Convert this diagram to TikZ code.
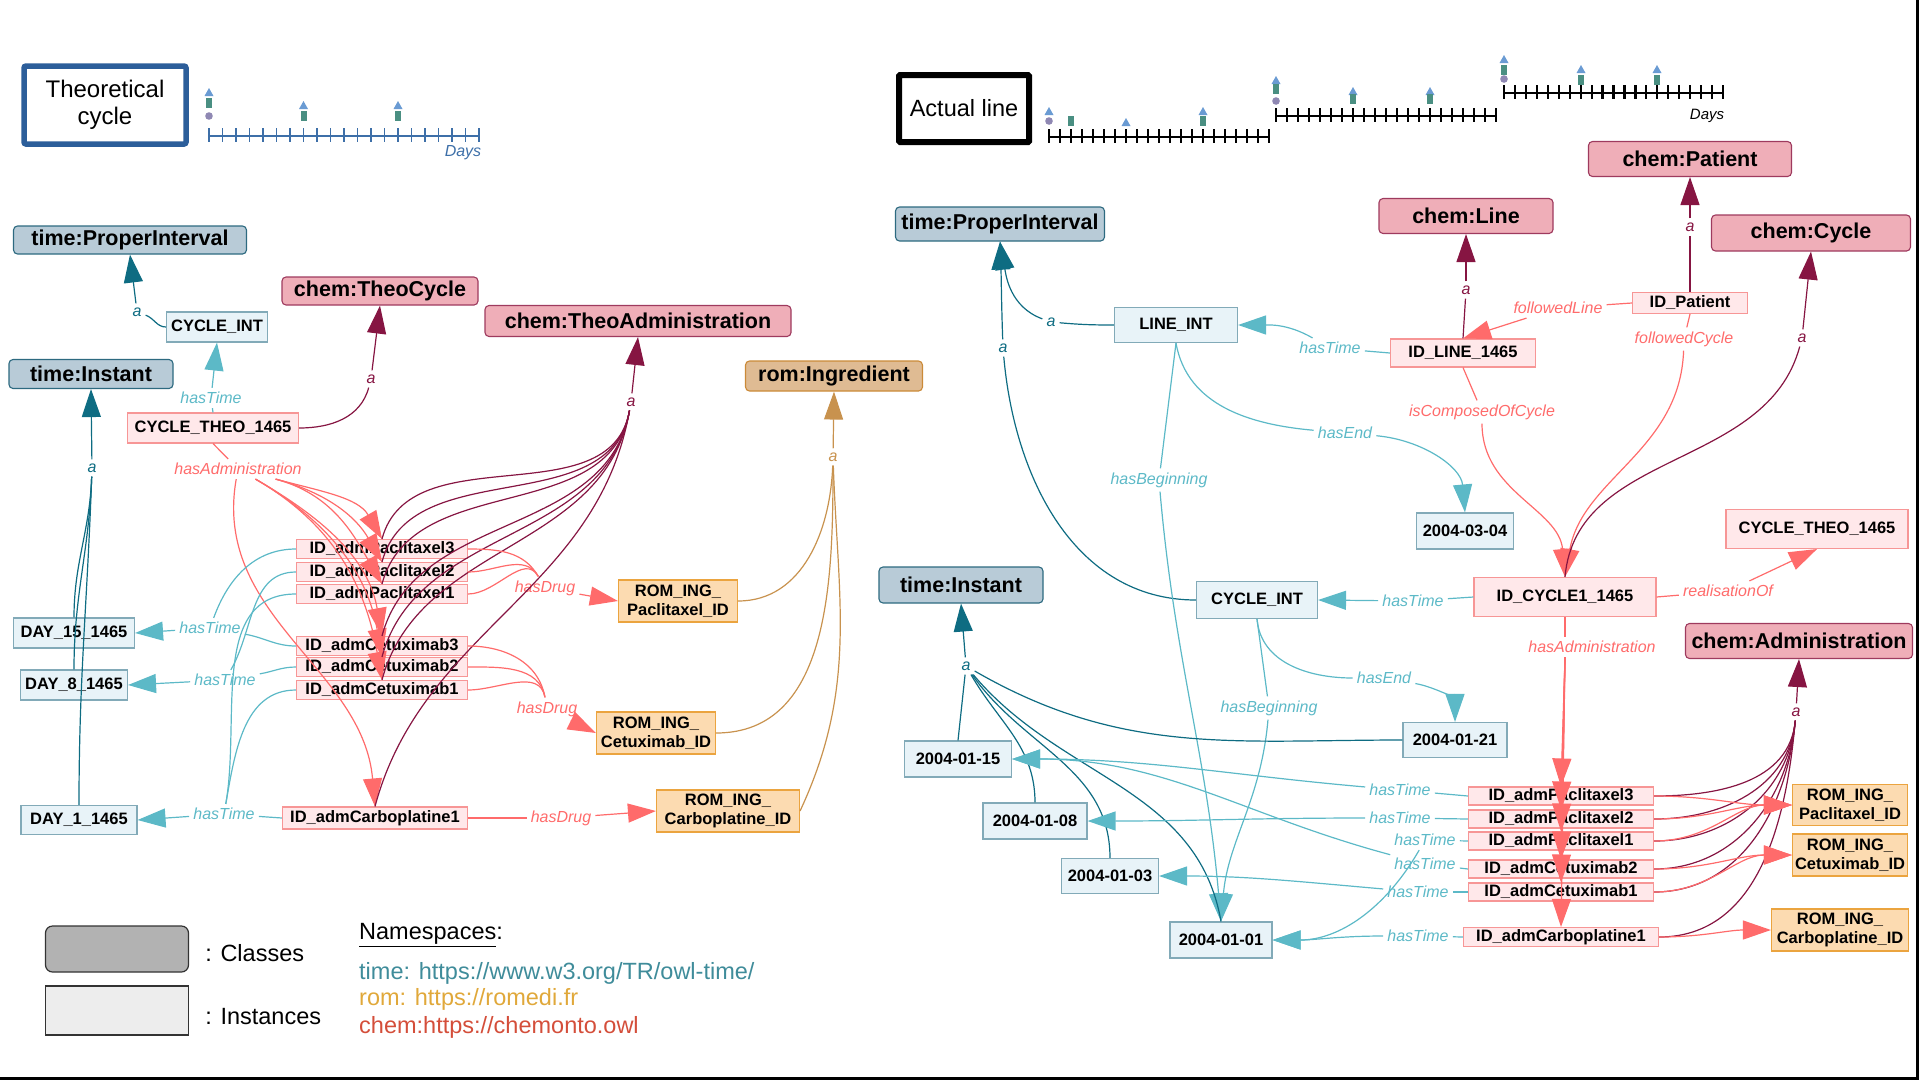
\documentclass[tikz,border=0pt]{standalone}
\usepackage{fontspec}
\setmainfont{Liberation Sans}
\usetikzlibrary{arrows.meta,positioning}

\definecolor{timeCls}{HTML}{B8CBD7}
\definecolor{timeClsD}{HTML}{2D6A80}
\definecolor{chemCls}{HTML}{EFAEB8}
\definecolor{chemClsD}{HTML}{9E3A5E}
\definecolor{romCls}{HTML}{DFBB93}
\definecolor{romClsD}{HTML}{CB8A38}
\definecolor{timeIns}{HTML}{E8F3F8}
\definecolor{timeInsD}{HTML}{82AAB8}
\definecolor{chemIns}{HTML}{FFE8EA}
\definecolor{chemInsD}{HTML}{F79696}
\definecolor{romIns}{HTML}{FCDBB1}
\definecolor{romInsD}{HTML}{EBA43F}
\definecolor{tA}{HTML}{0E6C82}
\definecolor{tP}{HTML}{5CB9C7}
\definecolor{cA}{HTML}{861542}
\definecolor{cP}{HTML}{FF6B6B}
\definecolor{rA}{HTML}{C8924E}
\definecolor{thBlue}{HTML}{2C5E9A}
\definecolor{axBlue}{HTML}{3D6FA8}
\definecolor{mkTri}{HTML}{6A9BD3}
\definecolor{mkSq}{HTML}{4A8F82}
\definecolor{mkDot}{HTML}{8F88B3}
\definecolor{nsTime}{HTML}{3F8C9A}
\definecolor{nsRom}{HTML}{E0A83A}
\definecolor{nsChem}{HTML}{D44E3A}

\newcommand{\pxsz}[1]{\fontsize{#1}{#1}\selectfont}
\newcommand{\mktri}[2]{\fill[mkTri] (#1,#2) ++(-4.5,4) -- ++(9,0) -- ++(-4.5,-8) -- cycle;}
\newcommand{\mksq}[2]{\fill[mkSq] (#1-3,#2-5) rectangle (#1+3,#2+5);}
\newcommand{\mkdot}[2]{\fill[mkDot] (#1,#2) circle (3.8pt);}
% start x, y, step, style
\newcommand{\dayaxis}[4]{%
  \draw[#4] (#1,#2) -- ({#1+20*#3},#2);
  \foreach \k in {0,...,20}{\draw[#4] ({#1+\k*#3},{#2-8}) -- ++(0,14);}}

\begin{document}
\begin{tikzpicture}[x=1pt,y=-1pt,
  sz/.style args={#1x#2}{minimum width=#1pt,minimum height=#2pt},
  cls/.style={rounded corners=4pt, line width=1.1pt, inner sep=0pt, font=\pxsz{21.5}\bfseries},
  tcls/.style={cls, fill=timeCls, draw=timeClsD},
  ccls/.style={cls, fill=chemCls, draw=chemClsD},
  rcls/.style={cls, fill=romCls, draw=romClsD},
  inst/.style={line width=1.1pt, inner sep=0pt, font=\pxsz{16.5}\bfseries},
  tins/.style={inst, fill=timeIns, draw=timeInsD},
  cins/.style={inst, fill=chemIns, draw=chemInsD},
  rins/.style={inst, fill=romIns, draw=romInsD, align=center, font=\fontsize{16.5}{18.5}\selectfont\bfseries},
  lbl/.style={font=\pxsz{16}\itshape, inner sep=4pt},
  lta/.style={lbl, text=tA}, ltp/.style={lbl, text=tP},
  lca/.style={lbl, text=cA}, lcp/.style={lbl, text=cP}, lra/.style={lbl, text=rA},
  eta/.style={draw=tA, line width=1.2pt}, etp/.style={draw=tP, line width=1.2pt},
  eca/.style={draw=cA, line width=1.2pt}, ecp/.style={draw=cP, line width=1.2pt},
  era/.style={draw=rA, line width=1.2pt},
  bigtip/.style={-{Triangle[length=28pt,width=19pt]}},
  axL/.style={draw=axBlue, line width=1.5pt},
  axK/.style={draw=black, line width=2.2pt}]
\useasboundingbox (0,0) rectangle (1920,1080);
\draw[line width=3pt] (0,1078.5) -- (1917.5,1078.5) -- (1917.5,0);

% Titles and time lines
\node[draw=thBlue, line width=5.5pt, rounded corners=2pt, sz=162x78, align=center,
      font=\fontsize{24}{27}\selectfont] (thCyc) at (105,105) {Theoretical\\cycle};
\node[draw=black, line width=6pt, rounded corners=1pt, sz=130x67,
      font=\pxsz{23.5}] (actLine) at (964,108.5) {Actual line};

\dayaxis{209}{136}{13.5}{axL}
\mktri{209}{92} \mksq{209}{103} \mkdot{209}{116}
\mktri{303.5}{105} \mksq{303.5}{116}
\mktri{398}{105} \mksq{398}{116}
\node[font=\pxsz{16}\itshape, text=axBlue] (daysL) at (463,153) {Days};

\dayaxis{1049}{137}{11}{axK}
\mktri{1049}{111} \mkdot{1049}{121} \mksq{1071}{121}
\mktri{1126}{122} \mktri{1203}{111} \mksq{1203}{121}
\dayaxis{1276}{116}{11}{axK}
\mktri{1276}{80} \mksq{1276}{89} \mkdot{1276}{101}
\mktri{1353}{91} \mksq{1353}{99} \mktri{1430}{91} \mksq{1430}{99}
\dayaxis{1504}{93}{10.95}{axK}
\mktri{1504}{59} \mksq{1504}{70} \mkdot{1504}{79}
\mktri{1581}{69} \mksq{1581}{80} \mktri{1657}{69} \mksq{1657}{80}
\node[font=\pxsz{15}\itshape] (daysR) at (1707,116) {Days};

% Theoretical cycle: nodes
\node[tcls, sz=233x28] (tPIL)    at (130,240) {time:ProperInterval};
\node[tins, sz=101x30] (cIntL)   at (217,327) {CYCLE\_INT};
\node[tcls, sz=164x29] (tInL)    at (91,374)  {time:Instant};
\node[ccls, sz=196x28] (theoCyc) at (380,291) {chem:TheoCycle};
\node[cins, sz=171x30] (cTheoL)  at (213,428) {CYCLE\_THEO\_1465};
\node[ccls, sz=306x31] (theoAdm) at (638,321) {chem:TheoAdministration};
\node[rcls, sz=177x30] (romIng)  at (834,376) {rom:Ingredient};

\node[cins, sz=171x19] (aP3L) at (382,549) {ID\_admPaclitaxel3};
\node[cins, sz=171x19] (aP2L) at (382,572) {ID\_admPaclitaxel2};
\node[cins, sz=171x19] (aP1L) at (382,594) {ID\_admPaclitaxel1};
\node[cins, sz=171x19] (aC3L) at (382,646) {ID\_admCetuximab3};
\node[cins, sz=171x19] (aC2L) at (382,667) {ID\_admCetuximab2};
\node[cins, sz=171x19] (aC1L) at (382,690) {ID\_admCetuximab1};
\node[cins, sz=185x22] (aCbL) at (375,818) {ID\_admCarboplatine1};

\node[tins, sz=121x30] (d15) at (74,633) {DAY\_15\_1465};
\node[tins, sz=107x30] (d8)  at (74,685) {DAY\_8\_1465};
\node[tins, sz=116x29] (d1)  at (79,820) {DAY\_1\_1465};

\node[rins, sz=119x42] (rPacL) at (678,601) {ROM\_ING\_\\Paclitaxel\_ID};
\node[rins, sz=119x42] (rCetL) at (656,733) {ROM\_ING\_\\Cetuximab\_ID};
\node[rins, sz=143x42] (rCarL) at (728,811) {ROM\_ING\_\\Carboplatine\_ID};

% Theoretical cycle: edge labels
\node[lta] (lA1)  at (137,312) {a};
\node[ltp] (lHT1) at (211,398) {hasTime};
\node[lca] (lA2)  at (371,379) {a};
\node[lta] (lA3)  at (92,468)  {a};
\node[lcp] (lAdm) at (238,469) {hasAdministration};
\node[lca] (lA4)  at (631,402) {a};
\node[lcp] (lD1)  at (545,588) {hasDrug};
\node[lcp] (lD2)  at (547,709) {hasDrug};
\node[lcp] (lD3)  at (561,818) {hasDrug};
\node[ltp] (lT1)  at (210,628) {hasTime};
\node[ltp] (lT2)  at (225,680) {hasTime};
\node[ltp] (lT3)  at (224,814) {hasTime};
\node[lra] (lA5)  at (833,457) {a};

% Theoretical cycle: edges
\draw[eta] (cIntL.west) to[out=180,in=-20] (lA1);
\draw[eta,bigtip] (lA1) -- (tPIL.south);
\draw[etp] (cTheoL.north) -- (lHT1);
\draw[etp,bigtip] (lHT1) -- (cIntL.south);
\draw[eca] (cTheoL.east) to[out=0,in=-105] (lA2);
\draw[eca,bigtip] (lA2) -- (theoCyc.south);
\foreach \n in {d15,d8,d1} \draw[eta] (\n.north) to[out=90,in=-92] (lA3);
\draw[eta,bigtip] (lA3) -- (tInL.south);

\draw[ecp] (cTheoL.south) -- (lAdm);
\foreach \n in {aP3L,aP2L,aP1L} \draw[ecp,bigtip] (lAdm) to[out=-15,in=120] (\n.north);
\foreach \n in {aC3L,aC2L,aC1L} \draw[ecp,bigtip] (lAdm) to[out=-30,in=100] (\n.north);
\draw[ecp,bigtip] (lAdm) to[out=-100,in=95] (aCbL.north);

\foreach \n in {aP3L,aP2L,aP1L,aC3L,aC2L,aC1L,aCbL}
  \draw[eca] (\n.north) to[out=75,in=-100] (lA4);
\draw[eca,bigtip] (lA4) -- (theoAdm.south);

\foreach \n in {aP3L,aP2L,aP1L} \draw[ecp] (\n.east) to[out=0,in=120] (lD1);
\draw[ecp,bigtip] (lD1) -- (rPacL.west);
\foreach \n in {aC3L,aC2L,aC1L} \draw[ecp] (\n.east) to[out=0,in=100] (lD2);
\draw[ecp,bigtip] (lD2) -- (rCetL.west);
\draw[ecp] (aCbL.east) -- (lD3);
\draw[ecp,bigtip] (lD3) -- (rCarL.west);

\draw[etp] (aP3L.west) to[out=180,in=70] (lT1);
\draw[etp] (aC3L.west) to[out=180,in=-10] (lT1);
\draw[etp,bigtip] (lT1) -- (d15.east);
\draw[etp] (aP2L.west) to[out=180,in=60] (lT2);
\draw[etp] (aC2L.west) to[out=180,in=10] (lT2);
\draw[etp,bigtip] (lT2) -- (d8.east);
\draw[etp] (aP1L.west) to[out=180,in=80] (lT3);
\draw[etp] (aC1L.west) to[out=180,in=80] (lT3);
\draw[etp] (aCbL.west) -- (lT3);
\draw[etp,bigtip] (lT3) -- (d1.east);

\draw[era] (rPacL.east) to[out=0,in=-92] (lA5);
\draw[era] (rCetL.east) to[out=0,in=-90] (lA5);
\draw[era] (rCarL.east) to[out=65,in=-88] (lA5);
\draw[era,bigtip] (lA5) -- (romIng.south);

% Actual line: nodes
\node[tcls, sz=209x34] (tPIR)   at (1000,224) {time:ProperInterval};
\node[tins, sz=123x35] (lineInt) at (1176,325) {LINE\_INT};
\node[ccls, sz=174x35] (cLine)  at (1466,216) {chem:Line};
\node[cins, sz=145x28] (idLine) at (1463,353) {ID\_LINE\_1465};
\node[cins, sz=115x21] (idPat)  at (1690,303) {ID\_Patient};
\node[ccls, sz=203x35] (cPat)   at (1690,159) {chem:Patient};
\node[ccls, sz=199x36] (cCyc)   at (1811,233) {chem:Cycle};
\node[tins, sz=97x36]  (d0304)  at (1465,531) {2004-03-04};
\node[cins, sz=182x39] (cTheoR) at (1817,529) {CYCLE\_THEO\_1465};
\node[cins, sz=182x39] (idCyc)  at (1565,597) {ID\_CYCLE1\_1465};
\node[tins, sz=121x37] (cIntR)  at (1257,600) {CYCLE\_INT};
\node[ccls, sz=227x35] (cAdm)   at (1799,641) {chem:Administration};
\node[tcls, sz=164x36] (tInR)   at (961,585)  {time:Instant};

\node[tins, sz=107x36] (d0115) at (958,759)  {2004-01-15};
\node[tins, sz=104x36] (d0108) at (1035,821) {2004-01-08};
\node[tins, sz=97x35]  (d0103) at (1110,876) {2004-01-03};
\node[tins, sz=102x36] (d0101) at (1221,940) {2004-01-01};
\node[tins, sz=104x35] (d0121) at (1455,740) {2004-01-21};

\node[cins, sz=185x18] (aP3R) at (1561,796) {ID\_admPaclitaxel3};
\node[cins, sz=185x18] (aP2R) at (1561,819) {ID\_admPaclitaxel2};
\node[cins, sz=185x18] (aP1R) at (1561,841) {ID\_admPaclitaxel1};
\node[cins, sz=185x18] (aC2R) at (1561,869) {ID\_admCetuximab2};
\node[cins, sz=185x18] (aC1R) at (1561,892) {ID\_admCetuximab1};
\node[cins, sz=195x19] (aCbR) at (1561,937) {ID\_admCarboplatine1};

\node[rins, sz=115x41] (rPacR) at (1850,805) {ROM\_ING\_\\Paclitaxel\_ID};
\node[rins, sz=115x42] (rCetR) at (1850,855) {ROM\_ING\_\\Cetuximab\_ID};
\node[rins, sz=137x42] (rCarR) at (1840,930) {ROM\_ING\_\\Carboplatine\_ID};

% Actual line: edge labels
\node[lta] (rA1)  at (1051,322) {a};
\node[lta] (rA2)  at (1003,348) {a};
\node[ltp] (rHT1) at (1330,348) {hasTime};
\node[lca] (rA3)  at (1466,290) {a};
\node[lcp] (rFL)  at (1558,308) {followedLine};
\node[lca] (rA4)  at (1690,227) {a};
\node[lcp] (rFC)  at (1684,339) {followedCycle};
\node[lcp] (rIC)  at (1482,412) {isComposedOfCycle};
\node[lca] (rA5)  at (1802,338) {a};
\node[ltp] (rHE1) at (1345,433) {hasEnd};
\node[ltp] (rHB1) at (1159,480) {hasBeginning};
\node[lcp] (rRO)  at (1728,591) {realisationOf};
\node[ltp] (rHT2) at (1413,601) {hasTime};
\node[lcp] (rHA)  at (1592,647) {hasAdministration};
\node[ltp] (rHE2) at (1384,678) {hasEnd};
\node[ltp] (rHB2) at (1269,708) {hasBeginning};
\node[lta] (rA6)  at (966,666)  {a};
\node[lca] (rA7)  at (1796,712) {a};
\node[ltp] (rT1)  at (1400,790) {hasTime};
\node[ltp] (rT2)  at (1400,818) {hasTime};
\node[ltp] (rT3)  at (1425,840) {hasTime};
\node[ltp] (rT4)  at (1425,864) {hasTime};
\node[ltp] (rT5)  at (1418,892) {hasTime};
\node[ltp] (rT6)  at (1418,936) {hasTime};

% Actual line: edges
\draw[eta] (lineInt.west) to[out=180,in=-5] (rA1);
\draw[eta,bigtip] (rA1) to[out=160,in=-80] (tPIR.south);
\draw[eta] (cIntR.west) to[out=180,in=-85] (rA2);
\draw[eta,bigtip] (rA2) to[out=92,in=-88] (tPIR.south);
\draw[etp] (idLine.west) -- (rHT1);
\draw[etp,bigtip] (rHT1) to[out=150,in=0] (lineInt.east);
\draw[eca] (idLine.north) -- (rA3);
\draw[eca,bigtip] (rA3) -- (cLine.south);
\draw[ecp] (idPat.west) -- (rFL);
\draw[ecp,bigtip] (rFL) -- (idLine.north);
\draw[eca] (idPat.north) -- (rA4);
\draw[eca,bigtip] (rA4) -- (cPat.south);
\draw[ecp] (idPat.south) -- (rFC);
\draw[ecp,bigtip] (rFC) to[out=-92,in=80] (idCyc.north);
\draw[ecp] (idLine.south) -- (rIC);
\draw[ecp,bigtip] (rIC) to[out=-90,in=95] (idCyc.north);
\draw[eca] (idCyc.north) to[out=85,in=-105] (rA5);
\draw[eca,bigtip] (rA5) -- (cCyc.south);

\draw[etp] (lineInt.south) to[out=-80,in=175] (rHE1);
\draw[etp,bigtip] (rHE1) to[out=-5,in=95] (d0304.north);
\draw[etp] (lineInt.south) -- (rHB1);
\draw[etp,bigtip] (rHB1) to[out=-85,in=95] (d0101.north);
\draw[ecp] (idCyc.east) -- (rRO);
\draw[ecp,bigtip] (rRO) -- (cTheoR.south);
\draw[etp] (idCyc.west) -- (rHT2);
\draw[etp,bigtip] (rHT2) -- (cIntR.east);
\draw[etp] (cIntR.south) to[out=-85,in=180] (rHE2);
\draw[etp,bigtip] (rHE2) to[out=-10,in=90] (d0121.north);
\draw[etp] (cIntR.south) -- (rHB2);
\draw[etp,bigtip] (rHB2) to[out=-95,in=85] (d0101.north);

\draw[ecp] (idCyc.south) -- (idCyc.south |- rHA.north);
\foreach \n in {aP3R,aP2R,aP1R,aC2R,aC1R,aCbR}
  \draw[ecp,bigtip] (idCyc.south |- rHA.south) -- (\n.north);

\draw[eta] (d0115.north) -- (rA6);
\draw[eta] (d0108.north) to[out=90,in=-60] (rA6);
\draw[eta] (d0103.north) to[out=90,in=-55] (rA6);
\draw[eta] (d0101.north) to[out=100,in=-50] (rA6);
\draw[eta] (d0121.west) to[out=180,in=-30] (rA6);
\draw[eta,bigtip] (rA6) -- (tInR.south);

\draw[etp] (aP3R.west) -- (rT1);
\draw[etp,bigtip] (rT1) to[out=175,in=0] (d0115.east);
\draw[etp] (aP2R.west) -- (rT2);
\draw[etp,bigtip] (rT2) to[out=180,in=0] (d0108.east);
\draw[etp] (aP1R.west) -- (rT3);
\draw[etp,bigtip] (rT3) to[out=-120,in=0] (d0101.east);
\draw[etp] (aC2R.west) -- (rT4);
\draw[etp,bigtip] (rT4) to[out=165,in=0] (d0115.east);
\draw[etp] (aC1R.west) -- (rT5);
\draw[etp,bigtip] (rT5) to[out=175,in=0] (d0103.east);
\draw[etp] (aCbR.west) -- (rT6);
\draw[etp,bigtip] (rT6) to[out=180,in=0] (d0101.east);

\foreach \n in {aP3R,aP2R,aP1R,aC2R,aC1R,aCbR}
  \draw[eca] (\n.east) to[out=0,in=-95] (rA7);
\draw[eca,bigtip] (rA7) -- (cAdm.south);
\foreach \n in {aP3R,aP2R,aP1R} \draw[ecp,bigtip] (\n.east) to[out=0,in=180] (rPacR.west);
\foreach \n in {aC2R,aC1R} \draw[ecp,bigtip] (\n.east) to[out=0,in=180] (rCetR.west);
\draw[ecp,bigtip] (aCbR.east) to[out=0,in=180] (rCarR.west);

% Legend
\node[draw=black!80, fill=black!30, rounded corners=7pt, line width=1.2pt, sz=143x46] (legC) at (117,949) {};
\node[draw=black!80, fill=black!7, line width=1.2pt, sz=143x49] (legI) at (117,1010.5) {};
\node[right=16pt of legC, yshift=-4pt, inner sep=0pt, font=\pxsz{23.5}] (legCt) {: Classes};
\node[right=16pt of legI, yshift=-6pt, inner sep=0pt, font=\pxsz{23.5}] (legIt) {: Instances};
\node[anchor=west, inner sep=0pt, font=\pxsz{23.5}] (nsHead) at (359,935) {\underline{Namespaces}:};
\node[anchor=west, inner sep=0pt, font=\pxsz{23.5}, text=nsTime] (nsTime) at (359,973) {time: https://www.w3.org/TR/owl-time/};
\node[anchor=west, inner sep=0pt, font=\pxsz{23.5}, text=nsRom]  (nsRom)  at (359,999) {rom: https://romedi.fr};
\node[anchor=west, inner sep=0pt, font=\pxsz{23.5}, text=nsChem] (nsChem) at (359,1027) {chem:https://chemonto.owl};
\end{tikzpicture}
\end{document}
